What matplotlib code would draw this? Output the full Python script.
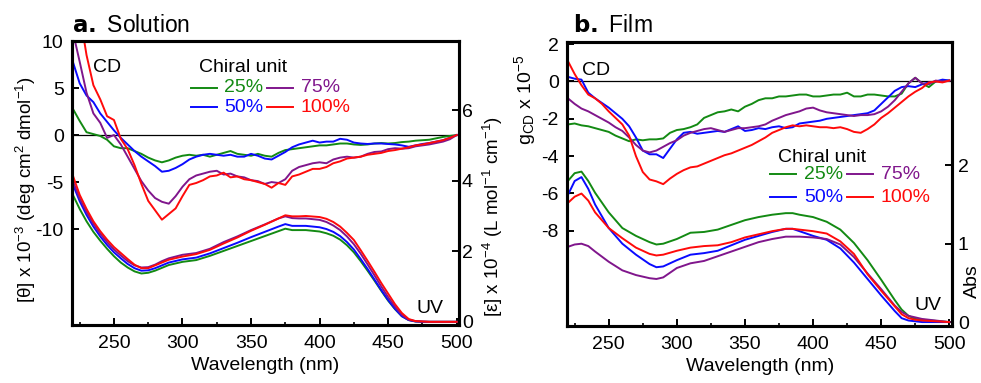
import matplotlib
matplotlib.use("Agg")
import matplotlib.pyplot as plt
from matplotlib.lines import Line2D
from matplotlib.ticker import FixedLocator

plt.rcParams['font.family'] = ['Liberation Sans', 'DejaVu Sans']
plt.rcParams['mathtext.default'] = 'regular'
plt.rcParams['axes.unicode_minus'] = False

# ---------------- data ----------------
labels = ['25%', '50%', '75%', '100%']
colors = ['#138a13', '#0a0aff', '#80168c', '#ff0a0a']

wl_cd = list(range(220, 501, 5))

# (a) solution CD, [theta] x 1e-3
sol_cd_25 = [2.8, 1.5, 0.3, 0.1, -0.1, -0.5, -1.2, -1.4, -1.4, -1.7, -2.0, -2.4, -2.7, -2.9, -2.7,
             -2.4, -2.2, -2.1, -2.2, -2.1, -2.3, -2.1, -1.9, -1.7, -2.0, -2.1, -2.2, -2.0, -2.2,
             -2.3, -1.9, -1.6, -1.5, -1.4, -1.3, -1.2, -1.1, -1.1, -1.0, -0.9, -0.9, -1.0, -1.05,
             -1.0, -0.9, -0.85, -0.9, -0.85, -0.75, -0.7, -0.6, -0.55, -0.5, -0.35, -0.2, -0.1, 0.0]
sol_cd_50 = [7.8, 5.5, 4.2, 3.5, 2.3, 1.4, 0.5, -0.3, -1.0, -1.7, -2.3, -2.8, -3.3, -3.9, -3.8,
             -3.5, -3.1, -2.6, -2.3, -2.1, -2.0, -2.1, -2.2, -2.1, -2.3, -2.3, -2.0, -2.2, -2.5,
             -2.6, -2.2, -1.8, -1.3, -1.0, -0.8, -0.6, -0.8, -0.7, -0.7, -0.4, -0.5, -0.8, -0.9,
             -0.95, -0.9, -0.9, -0.95, -1.0, -1.1, -1.25, -1.1, -0.95, -0.85, -0.7, -0.55, -0.3, 0.0]
sol_cd_75 = [11.0, 7.8, 4.5, 2.3, 1.3, -0.3, 0.0, -1.0, -2.3, -3.6, -4.9, -5.9, -6.7, -7.1, -7.3,
             -6.5, -5.5, -4.7, -4.3, -4.1, -3.9, -3.8, -4.2, -4.1, -4.4, -4.5, -4.8, -4.9, -5.2,
             -5.0, -5.1, -4.7, -3.8, -3.4, -3.2, -3.0, -2.9, -3.0, -2.6, -2.4, -2.3, -2.4, -2.3,
             -2.0, -1.8, -1.75, -1.5, -1.4, -1.45, -1.4, -1.2, -1.1, -1.0, -0.85, -0.7, -0.45, 0.0]
sol_cd_100 = [17.0, 13.0, 8.5, 5.3, 3.8, 2.0, 1.6, -0.4, -1.5, -3.2, -5.2, -7.0, -8.0, -9.0, -8.4,
              -7.8, -6.5, -5.3, -5.1, -4.8, -4.4, -4.3, -4.0, -4.5, -4.4, -4.7, -4.8, -5.0, -5.2,
              -5.6, -5.1, -5.3, -4.4, -4.2, -3.9, -3.6, -3.6, -3.4, -3.0, -2.8, -2.5, -2.4, -2.3,
              -2.1, -2.0, -1.9, -1.7, -1.6, -1.45, -1.3, -1.1, -1.0, -0.85, -0.7, -0.55, -0.3, 0.0]

# (a) solution UV, [epsilon] x 1e-4
wl_sol_uv = [220, 225, 230, 235, 240, 245, 250, 255, 260, 265, 270, 275, 280, 285, 290, 300, 310,
             320, 330, 340, 350, 360, 370, 375, 380, 385, 390, 400, 405, 410, 415, 420, 425, 430,
             435, 440, 445, 450, 455, 460, 465, 470, 475, 480, 490, 500]
sol_uv_25 = [3.6, 3.2, 2.85, 2.55, 2.3, 2.07, 1.86, 1.68, 1.54, 1.43, 1.37, 1.39, 1.45, 1.53, 1.61,
             1.7, 1.75, 1.87, 2.01, 2.15, 2.29, 2.43, 2.57, 2.64, 2.6, 2.6, 2.6, 2.56, 2.51, 2.44,
             2.33, 2.17, 1.97, 1.72, 1.45, 1.17, 0.88, 0.6, 0.36, 0.16, 0.05, 0.01, 0.0, 0.0, 0.0, 0.0]
sol_uv_50 = [3.9, 3.42, 3.03, 2.7, 2.42, 2.18, 1.97, 1.8, 1.64, 1.52, 1.45, 1.46, 1.52, 1.6, 1.68,
             1.77, 1.82, 1.94, 2.09, 2.24, 2.4, 2.55, 2.7, 2.77, 2.72, 2.72, 2.72, 2.68, 2.63, 2.55,
             2.43, 2.26, 2.05, 1.78, 1.5, 1.2, 0.9, 0.62, 0.37, 0.16, 0.05, 0.01, 0.0, 0.0, 0.0, 0.0]
sol_uv_75 = [4.0, 3.5, 3.12, 2.78, 2.5, 2.26, 2.05, 1.88, 1.72, 1.6, 1.54, 1.55, 1.62, 1.72, 1.8,
             1.9, 1.95, 2.07, 2.26, 2.42, 2.6, 2.76, 2.93, 2.99, 2.94, 2.93, 2.93, 2.89, 2.83, 2.73,
             2.6, 2.42, 2.2, 1.93, 1.63, 1.32, 1.0, 0.7, 0.43, 0.2, 0.06, 0.02, 0.01, 0.0, 0.0, 0.0]
sol_uv_100 = [4.15, 3.6, 3.2, 2.85, 2.57, 2.33, 2.12, 1.95, 1.78, 1.62, 1.52, 1.52, 1.6, 1.68, 1.76,
              1.85, 1.92, 2.04, 2.22, 2.39, 2.58, 2.75, 2.93, 3.02, 2.99, 2.99, 3.0, 2.97, 2.92, 2.83,
              2.7, 2.52, 2.32, 2.03, 1.73, 1.42, 1.1, 0.8, 0.5, 0.25, 0.08, 0.02, 0.01, 0.0, 0.0, 0.0]

# (b) film CD, g_CD x 1e5
film_cd_25 = [-2.3, -2.25, -2.35, -2.4, -2.5, -2.6, -2.7, -2.9, -3.05, -3.2, -3.1, -3.15, -3.1,
              -3.1, -3.05, -2.75, -2.6, -2.55, -2.45, -2.3, -1.95, -1.8, -1.65, -1.6, -1.5, -1.6,
              -1.35, -1.2, -1.0, -0.9, -0.9, -0.8, -0.8, -0.75, -0.7, -0.7, -0.8, -0.8, -0.75, -0.7,
              -0.7, -0.6, -0.8, -0.8, -0.7, -0.7, -0.75, -0.8, -0.8, -0.65, -0.1, 0.2, -0.1, -0.3,
              0.0, 0.05, 0.05]
film_cd_50 = [0.25, 0.15, 0.1, -0.6, -0.9, -1.15, -1.4, -1.7, -2.0, -2.4, -3.0, -3.7, -3.9, -3.9,
              -4.1, -3.6, -3.1, -2.75, -2.7, -2.8, -2.75, -2.7, -2.65, -2.7, -2.55, -2.4, -2.65,
              -2.6, -2.5, -2.55, -2.45, -2.4, -2.5, -2.45, -2.25, -2.2, -2.15, -2.1, -2.0, -1.95,
              -1.9, -1.85, -1.8, -1.75, -1.7, -1.55, -1.2, -0.85, -0.5, -0.3, -0.25, -0.3, -0.15,
              -0.05, 0.0, 0.1, 0.05]
film_cd_75 = [-0.9, -1.2, -1.45, -1.6, -1.8, -2.0, -2.2, -2.45, -2.65, -3.0, -3.4, -3.7, -3.8,
              -3.7, -3.5, -3.3, -3.15, -2.9, -2.75, -2.65, -2.55, -2.5, -2.6, -2.7, -2.6, -2.5,
              -2.5, -2.45, -2.4, -2.3, -2.1, -1.95, -1.8, -1.7, -1.6, -1.45, -1.4, -1.55, -1.65,
              -1.7, -1.75, -1.8, -1.85, -1.8, -1.8, -1.75, -1.6, -1.35, -1.0, -0.55, -0.1, 0.2,
              -0.1, -0.15, 0.05, 0.0, 0.05]
film_cd_100 = [1.1, 0.4, -0.2, -0.7, -0.9, -1.2, -1.6, -1.95, -2.3, -2.9, -4.0, -4.85, -5.25,
               -5.35, -5.5, -5.2, -4.95, -4.75, -4.6, -4.55, -4.4, -4.25, -4.1, -3.95, -3.85, -3.7,
               -3.55, -3.4, -3.2, -3.0, -2.75, -2.6, -2.45, -2.35, -2.4, -2.35, -2.4, -2.45, -2.45,
               -2.5, -2.45, -2.55, -2.7, -2.75, -2.55, -2.3, -1.95, -1.7, -1.4, -1.1, -0.8, -0.55,
               -0.35, -0.05, 0.0, -0.05, 0.05]

# (b) film UV, absorbance
wl_film_uv = [220, 225, 230, 235, 240, 250, 260, 270, 280, 285, 290, 300, 310, 320, 330, 340, 350,
              360, 370, 380, 385, 390, 400, 410, 420, 430, 440, 450, 460, 465, 470, 475, 480, 490, 500]
film_uv_25 = [1.8, 1.9, 1.92, 1.8, 1.65, 1.4, 1.2, 1.1, 1.02, 0.99, 1.0, 1.06, 1.14, 1.15, 1.18,
              1.24, 1.3, 1.34, 1.37, 1.39, 1.39, 1.37, 1.34, 1.28, 1.18, 1.01, 0.79, 0.54, 0.28,
              0.16, 0.08, 0.04, 0.03, 0.015, 0.0]
film_uv_50 = [1.62, 1.8, 1.85, 1.7, 1.5, 1.2, 1.0, 0.86, 0.74, 0.7, 0.71, 0.79, 0.86, 0.88, 0.91,
              0.98, 1.05, 1.1, 1.15, 1.19, 1.19, 1.16, 1.1, 1.05, 0.94, 0.76, 0.55, 0.34, 0.14,
              0.05, 0.02, 0.01, 0.0, 0.0, 0.0]
film_uv_75 = [0.96, 0.99, 1.0, 0.97, 0.9, 0.77, 0.66, 0.6, 0.56, 0.55, 0.57, 0.69, 0.75, 0.78,
              0.84, 0.9, 0.96, 1.02, 1.06, 1.09, 1.09, 1.09, 1.08, 1.06, 0.99, 0.83, 0.62, 0.42,
              0.21, 0.13, 0.08, 0.06, 0.04, 0.02, 0.0]
film_uv_100 = [1.52, 1.6, 1.64, 1.55, 1.4, 1.2, 1.07, 0.95, 0.87, 0.85, 0.86, 0.91, 0.95, 0.97,
               0.98, 1.02, 1.08, 1.12, 1.16, 1.19, 1.19, 1.18, 1.16, 1.13, 1.03, 0.87, 0.61, 0.4,
               0.2, 0.1, 0.05, 0.03, 0.02, 0.01, 0.0]

x_ticks = [250, 300, 350, 400, 450, 500]
x_minor = [225, 275, 325, 375, 425, 475]

# ---------------- figure ----------------
W, H = 981, 383
fig = plt.figure(figsize=(W / 100, H / 100), dpi=100)


def fx(x):
    return x / W


def fy(y):
    return 1 - y / H


FS = 14
SPINE_LW = 2.2


def make_panel(left, top, right, bottom, xlim, cd_lim, uv_lim, cd_ticks, uv_ticks,
               cd_series, uv_wl, uv_series, right_pad):
    ax = fig.add_axes([fx(left), fy(bottom), fx(right) - fx(left), fy(top) - fy(bottom)])
    ax2 = ax.twinx()
    for a in (ax, ax2):
        for s in a.spines.values():
            s.set_linewidth(SPINE_LW)
    ax.set_xlim(*xlim)
    ax.set_ylim(*cd_lim)
    ax2.set_ylim(*uv_lim)
    ax.set_xticks(x_ticks)
    ax.xaxis.set_minor_locator(FixedLocator(x_minor))
    ax.set_yticks(cd_ticks)
    ax2.set_yticks(uv_ticks)
    ax.tick_params(axis='x', which='major', direction='in', length=5, width=1.4,
                   labelsize=FS, pad=7)
    ax.tick_params(axis='x', which='minor', direction='in', length=2.5, width=1.2)
    ax.tick_params(axis='y', direction='in', length=5, width=1.4, labelsize=FS, pad=6)
    ax2.tick_params(axis='y', direction='in', length=5, width=1.4, labelsize=FS,
                    pad=right_pad)
    ax.axhline(0, color='black', lw=0.9, zorder=1)
    for ys, c in zip(cd_series, colors):
        ax.plot(wl_cd, ys, color=c, lw=1.4, zorder=2)
    for ys, c in zip(uv_series, colors):
        ax2.plot(uv_wl, ys, color=c, lw=1.4, zorder=2)
    ax.set_xlabel('Wavelength (nm)', fontsize=FS, labelpad=4)
    return ax, ax2


ax_a, ax_a2 = make_panel(72, 41, 459, 325, (219.4, 501.7), (-20.2, 10), (-0.09, 7.96),
                         [-10, -5, 0, 5, 10], [0, 2, 4, 6],
                         [sol_cd_25, sol_cd_50, sol_cd_75, sol_cd_100],
                         wl_sol_uv, [sol_uv_25, sol_uv_50, sol_uv_75, sol_uv_100], 2)
ax_b, ax_b2 = make_panel(567.3, 42.3, 952.3, 326, (219.6, 502.2), (-13.1, 2.1), (-0.05, 3.57),
                         [-8, -6, -4, -2, 0, 2], [0, 1, 2],
                         [film_cd_25, film_cd_50, film_cd_75, film_cd_100],
                         wl_film_uv, [film_uv_25, film_uv_50, film_uv_75, film_uv_100], 4)

# panel titles
fig.text(fx(72), fy(31.5), r'$\bf{a.}$ Solution', fontsize=16.5, ha='left', va='baseline')
fig.text(fx(573), fy(31.5), r'$\bf{b.}$ Film', fontsize=16.5, ha='left', va='baseline')

# axis titles
fig.text(fx(26), fy(190), r'[θ] x 10$^{-3}$ (deg cm$^{2}$ dmol$^{-1}$)', fontsize=13.5,
         rotation=90, ha='center', va='center')
fig.text(fx(493), fy(217), r'[ε] x 10$^{-4}$ (L mol$^{-1}$ cm$^{-1}$)', fontsize=13.5,
         rotation=90, ha='center', va='center')
fig.text(fx(525), fy(100), r'g$_{CD}$ x 10$^{-5}$', fontsize=FS,
         rotation=90, ha='center', va='center')
fig.text(fx(972), fy(281), 'Abs', fontsize=FS, rotation=90, ha='center', va='center')

# in-plot annotations
fig.text(fx(93), fy(72), 'CD', fontsize=FS, ha='left', va='baseline')
fig.text(fx(582), fy(75), 'CD', fontsize=FS, ha='left', va='baseline')
fig.text(fx(443), fy(313), 'UV', fontsize=FS, ha='right', va='baseline')
fig.text(fx(942), fy(310), 'UV', fontsize=FS, ha='right', va='baseline')


def legend_block(title_x, title_y, col_x, row_y):
    fig.text(fx(title_x), fy(title_y), 'Chiral unit', fontsize=FS, ha='left', va='baseline')
    order = [(0, 0, 0), (2, 0, 1), (1, 1, 0), (3, 1, 1)]
    for idx, row, col in order:
        lx0, lx1, tx = col_x[col]
        y = row_y[row]
        fig.add_artist(Line2D([fx(lx0), fx(lx1)], [fy(y), fy(y)], color=colors[idx], lw=1.4,
                              transform=fig.transFigure))
        fig.text(fx(tx), fy(y), labels[idx], fontsize=FS, color=colors[idx], ha='left',
                 va='center')


legend_block(199, 72, [(191, 217, 224), (267, 293, 301)], [88, 107])
legend_block(778, 162, [(770, 796, 804), (847, 873, 881)], [174, 197])

fig.savefig('out.png', dpi=100)
